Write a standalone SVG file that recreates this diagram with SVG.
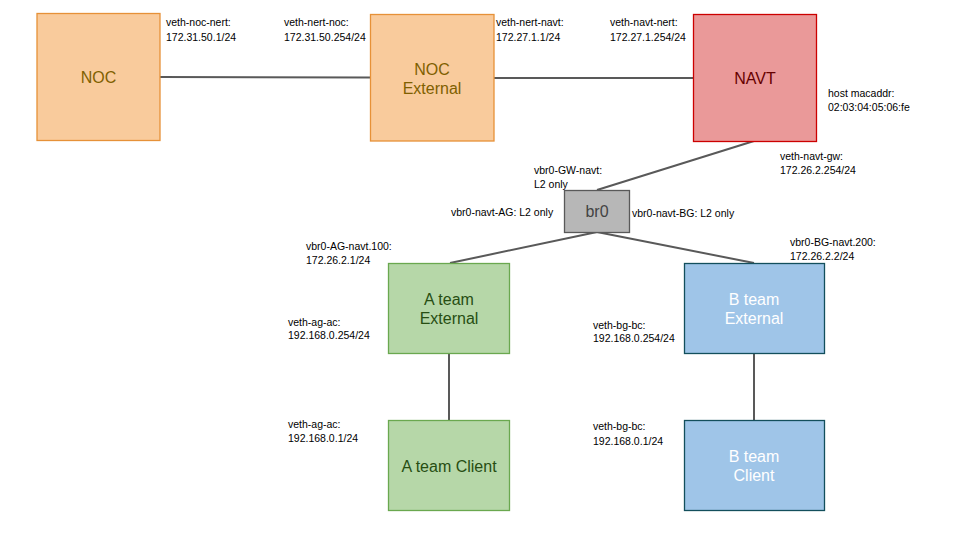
<svg xmlns="http://www.w3.org/2000/svg" width="960" height="540" viewBox="0 0 960 540">
<style>
.lbl{font-family:"Liberation Sans",Arial,sans-serif;font-size:10.5px;fill:#000}
.nt{font-family:"Liberation Sans",Arial,sans-serif;font-size:16px;text-anchor:middle}
.orange rect{fill:#f9cb9c;stroke:#e69138;stroke-width:1.3}
.orange text{fill:#7f6000}
.red rect{fill:#ea9999;stroke:#cc0000;stroke-width:1.3}
.red text{fill:#660000}
.gray rect{fill:#b7b7b7;stroke:#595959;stroke-width:1.3}
.gray text{fill:#434343}
.green rect{fill:#b6d7a8;stroke:#6aa84f;stroke-width:1.3}
.green text{fill:#274e13}
.blue rect{fill:#9fc5e8;stroke:#134f5c;stroke-width:1.3}
.blue text{fill:#ffffff}
.conn line{stroke:#595959;stroke-width:2}
</style>
<rect width="960" height="540" fill="#fff"/>
<g id="connectors" class="conn">
<line x1="160" y1="77" x2="370" y2="77.5"/>
<line x1="494" y1="78" x2="693" y2="78"/>
<line x1="754" y1="141" x2="597" y2="190"/>
<line x1="597" y1="232" x2="450" y2="263"/>
<line x1="597" y1="232" x2="754" y2="263"/>
<line x1="449" y1="353" x2="449" y2="420"/>
<line x1="754" y1="353" x2="754" y2="420"/>
</g>
<g id="noc" class="orange"><rect x="37" y="13.5" width="123" height="127"/><text class="nt" x="98.5" y="83">NOC</text></g>
<g id="noc-external" class="orange"><rect x="370.5" y="14.5" width="123.5" height="126.5"/><text class="nt" x="432" y="75">NOC</text><text class="nt" x="432" y="94">External</text></g>
<g id="navt" class="red"><rect x="693.5" y="14.5" width="123" height="127"/><text class="nt" x="755" y="84">NAVT</text></g>
<g id="br0" class="gray"><rect x="564.5" y="190.5" width="65" height="42"/><text class="nt" x="597" y="217">br0</text></g>
<g id="a-external" class="green"><rect x="388.5" y="263.5" width="121" height="90"/><text class="nt" x="449" y="305">A team</text><text class="nt" x="449" y="324">External</text></g>
<g id="a-client" class="green"><rect x="388.5" y="420.5" width="121" height="90"/><text class="nt" x="449" y="472">A team Client</text></g>
<g id="b-external" class="blue"><rect x="684.5" y="263.5" width="140" height="90"/><text class="nt" x="754" y="305">B team</text><text class="nt" x="754" y="324">External</text></g>
<g id="b-client" class="blue"><rect x="684.5" y="420.5" width="140" height="90"/><text class="nt" x="754" y="462">B team</text><text class="nt" x="754" y="481">Client</text></g>
<g id="labels">
<text class="lbl" x="166" y="26">veth-noc-nert:</text><text class="lbl" x="166" y="41">172.31.50.1/24</text>
<text class="lbl" x="284" y="26">veth-nert-noc:</text><text class="lbl" x="284" y="41">172.31.50.254/24</text>
<text class="lbl" x="496" y="26">veth-nert-navt:</text><text class="lbl" x="496" y="41">172.27.1.1/24</text>
<text class="lbl" x="610" y="26">veth-navt-nert:</text><text class="lbl" x="610" y="41">172.27.1.254/24</text>
<text class="lbl" x="828" y="97">host macaddr:</text><text class="lbl" x="828" y="111">02:03:04:05:06:fe</text>
<text class="lbl" x="780" y="160">veth-navt-gw:</text><text class="lbl" x="780" y="174">172.26.2.254/24</text>
<text class="lbl" x="534" y="174">vbr0-GW-navt:</text><text class="lbl" x="534" y="188">L2 only</text>
<text class="lbl" x="451" y="216">vbr0-navt-AG: L2 only</text>
<text class="lbl" x="632" y="217">vbr0-navt-BG: L2 only</text>
<text class="lbl" x="306" y="250">vbr0-AG-navt.100:</text><text class="lbl" x="306" y="264">172.26.2.1/24</text>
<text class="lbl" x="790" y="246">vbr0-BG-navt.200:</text><text class="lbl" x="790" y="260">172.26.2.2/24</text>
<text class="lbl" x="288" y="326">veth-ag-ac:</text><text class="lbl" x="288" y="339">192.168.0.254/24</text>
<text class="lbl" x="288" y="428">veth-ag-ac:</text><text class="lbl" x="288" y="442">192.168.0.1/24</text>
<text class="lbl" x="593" y="329">veth-bg-bc:</text><text class="lbl" x="593" y="342">192.168.0.254/24</text>
<text class="lbl" x="593" y="430">veth-bg-bc:</text><text class="lbl" x="593" y="445">192.168.0.1/24</text>
</g>
</svg>
